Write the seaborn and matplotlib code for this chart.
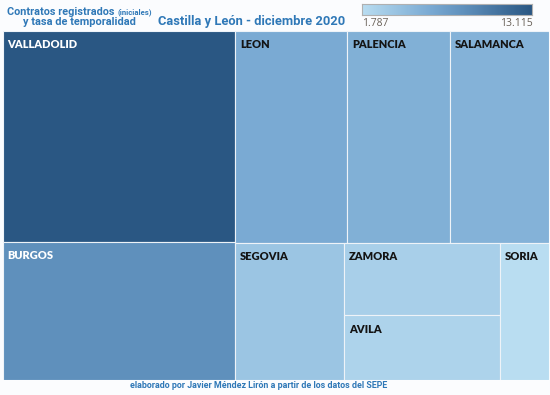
import numpy as np
import matplotlib
matplotlib.use("Agg")
import matplotlib.pyplot as plt
import seaborn as sns
from matplotlib.colors import LinearSegmentedColormap, Normalize

# ---- data ----
provincias = ["VALLADOLID", "BURGOS", "LEON", "PALENCIA", "SALAMANCA",
              "SEGOVIA", "ZAMORA", "AVILA", "SORIA"]
contratos = [13115, 8580, 6333, 5824, 5598, 3994, 3032, 2700, 1787]
escala_min_label = "1.787"
escala_max_label = "13.115"

# nested slice structure (h = side by side, v = stacked)
estructura = ("h", [("v", [0, 1]),
                    ("v", [("h", [2, 3, 4]),
                           ("h", [5, ("v", [6, 7]), 8])])])

sns.set_theme(style="white")
plt.rcParams["font.family"] = ["Roboto", "DejaVu Sans"]

BG = "#fbfcfe"
fig = plt.figure(figsize=(5.5, 3.95), dpi=100, facecolor=BG)
ax = fig.add_axes([3/550, 1-380/395, 546/550, 349/395])
ax.set_facecolor(BG)

def total(node):
    if isinstance(node, int):
        return contratos[node]
    return sum(total(c) for c in node[1])

rects = {}
def layout(node, x, y, w, h):
    if isinstance(node, int):
        rects[node] = (x, y, w, h)
        return
    kind, children = node
    tot = total(node)
    pos = 0.0
    for c in children:
        f = total(c) / tot
        if kind == "h":
            layout(c, x + pos * w, y, w * f, h)
        else:
            layout(c, x, y + pos * h, w, h * f)
        pos += f

layout(estructura, 0.0, 0.0, 1.0, 1.0)

cmap = LinearSegmentedColormap.from_list(
    "tab_blue", [(0.0, "#b9ddf1"), (0.4, "#7aaad3"), (0.6, "#5f90bc"), (1.0, "#2a5783")])
norm = Normalize(vmin=min(contratos), vmax=max(contratos))

for i, name in enumerate(provincias):
    x, y, w, h = rects[i]
    col = cmap(norm(contratos[i]))
    ax.bar(x, h, width=w, bottom=y, align="edge", color=col,
           edgecolor="#eef3f8", linewidth=0.8)
    tc = "white" if norm(contratos[i]) > 0.55 else "#141414"
    ax.text(x + 4.5/546, y + 8.5/349, name, ha="left", va="top",
            fontsize=7.9, fontweight="heavy", color=tc,
            family=["Lato", "DejaVu Sans"])

ax.set_xlim(0, 1)
ax.set_ylim(1, 0)
ax.set_xticks([]); ax.set_yticks([])
for s in ax.spines.values():
    s.set_visible(False)

# colour legend
cax = fig.add_axes([362/550, 1-15/395, 170/550, 11/395])
grad = np.linspace(0, 1, 256).reshape(1, -1)
cax.imshow(grad, aspect="auto", cmap=cmap, extent=(0, 1, 0, 1))
cax.set_xticks([]); cax.set_yticks([])
for s in cax.spines.values():
    s.set_color("#b0b0b0"); s.set_linewidth(0.8)
fig.text(362/550, 1-23/395, escala_min_label, ha="left", va="center",
         fontsize=7.5, color="#6a6259", family=["Open Sans", "DejaVu Sans"])
fig.text(533/550, 1-23/395, escala_max_label, ha="right", va="center",
         fontsize=7.5, color="#6a6259", family=["Open Sans", "DejaVu Sans"])

TC = "#2f78b7"
fig.text(7/550, 1-12/395, "Contratos registrados", ha="left", va="center",
         fontsize=7.85, fontweight="bold", color=TC)
fig.text(117/550, 1-12/395, "(iniciales)", ha="left", va="center",
         fontsize=5.6, fontweight="bold", color=TC)
fig.text(23/550, 1-22/395, "y tasa de temporalidad", ha="left", va="center",
         fontsize=7.9, fontweight="bold", color=TC)
fig.text(158/550, 1-21/395, "Castilla y León - diciembre 2020", ha="left", va="center",
         fontsize=9.3, fontweight="bold", color=TC)
fig.text(130/550, 1-386/395, "elaborado por Javier Méndez Lirón a partir de los datos del SEPE",
         ha="left", va="center", fontsize=6.4, fontweight="bold", color=TC)

fig.savefig("out.png", dpi=100, facecolor=BG)
